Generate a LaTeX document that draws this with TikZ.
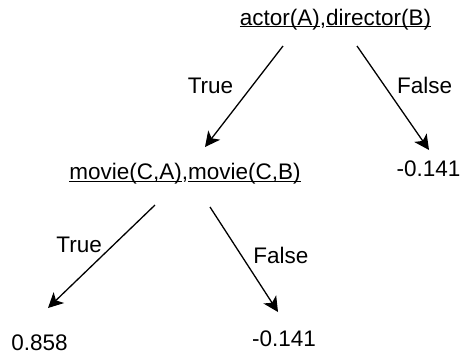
\documentclass[tikz,border=0pt]{standalone}
\usepackage{fontspec}
\setmainfont{Liberation Sans}
\usepackage{tikz}
\usetikzlibrary{positioning,arrows.meta}

\newcommand{\ulpred}[1]{\underline{\raisebox{0pt}[\height][0pt]{#1}}}

\begin{document}
\begin{tikzpicture}[x=1bp,y=1bp,on grid,
    every node/.style={inner sep=0pt,font=\fontsize{22.5bp}{27bp}\selectfont},
    branch/.style={line width=1.3bp,-{Stealth[length=15bp,width=15bp,inset=4bp]}}]
    \useasboundingbox (0,0) rectangle (460,-354);
    \node[anchor=base] (root) at (335.5,-25) {\ulpred{actor(A)},\ulpred{director(B)}};
    \node[anchor=base] (movie) [below left=154.5bp and 150.5bp of root.base, anchor=base] {\ulpred{movie(C,A)},\ulpred{movie(C,B)}};
    \node (leafR) [below right=151.7bp and 93bp of root.base, anchor=base] {-0.141};
    \node (leafT) [below left=170.5bp and 145.5bp of movie.base, anchor=base] {0.858};
    \node (leafF) [below right=167.2bp and 99bp of movie.base, anchor=base] {-0.141};
    \path[branch]
          ([shift={(-52.5,-21)}]root.base) edge node [left=18.7bp, pos=0.39] {True} ([shift={(20,32.5)}]movie.base)
          ([shift={(21.5,-21)}]root.base) edge node [right=12bp, pos=0.38] {False} ([shift={(0.5,26.7)}]leafR.base)
          ([shift={(-30,-25.5)}]movie.base) edge node [left=10.7bp, pos=0.39] {True} ([shift={(8.5,42)}]leafT.base)
          ([shift={(25,-27.5)}]movie.base) edge node [right=11.5bp, pos=0.46] {False} ([shift={(-6,34.7)}]leafF.base);
\end{tikzpicture}
\end{document}
